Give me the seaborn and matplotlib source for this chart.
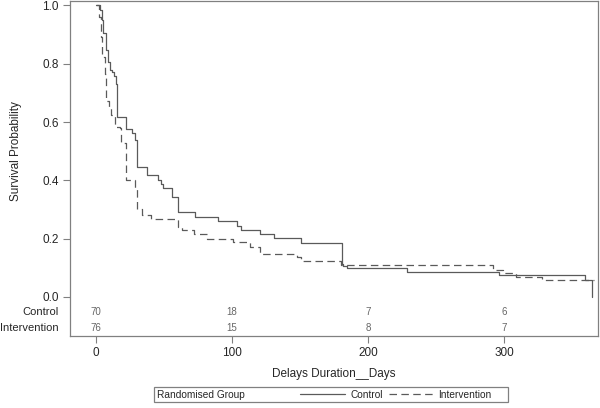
import numpy as np
import pandas as pd
import seaborn as sns
import matplotlib.pyplot as plt
from matplotlib.lines import Line2D
from matplotlib.patches import Rectangle

# Kaplan-Meier step values (day, survival after step)
control_days = [0, 2.9, 4.2, 5.4, 7.1, 8.6, 10.3, 12.0, 13.5, 14.5, 15.2, 21.8, 26.3,
                28.7, 30.4, 30.6, 37.7, 45.6, 48.0, 49.0, 55.6, 60.5, 73.0, 90.0,
                104.0, 107.0, 120.6, 131.0, 150.5, 180.7, 181.8, 184.8, 228.5,
                296.0, 359.5, 364.5]
control_surv = [1.0, 0.986, 0.949, 0.904, 0.846, 0.806, 0.777, 0.771, 0.757, 0.731,
                0.617, 0.575, 0.561, 0.540, 0.531, 0.446, 0.417, 0.400, 0.389,
                0.375, 0.342, 0.290, 0.273, 0.260, 0.245, 0.230, 0.216, 0.201,
                0.185, 0.113, 0.107, 0.101, 0.086, 0.075, 0.059, 0.0]

interv_days = [0, 2.5, 3.5, 4.7, 6.4, 7.1, 9.6, 11.0, 14.0, 17.5, 18.4, 21.8, 28.7,
               30.4, 33.6, 40.4, 60.5, 63.0, 72.3, 81.9, 100.5, 113.0, 120.5,
               147.5, 150.5, 180.0, 292.0, 299.5, 309.0, 327.5, 366.0]
interv_surv = [1.0, 0.96, 0.892, 0.823, 0.766, 0.674, 0.651, 0.623, 0.583, 0.578,
               0.528, 0.401, 0.375, 0.303, 0.280, 0.266, 0.240, 0.228, 0.216,
               0.198, 0.187, 0.172, 0.146, 0.137, 0.122, 0.108, 0.094, 0.082,
               0.068, 0.057, 0.057]

# numbers at risk
risk_days = [0, 100, 200, 300]
risk_control = [70, 18, 7, 6]
risk_interv = [76, 15, 8, 7]

groups = ['Control', 'Intervention']

df = pd.concat([
    pd.DataFrame({'days': control_days, 'surv': control_surv, 'group': 'Control'}),
    pd.DataFrame({'days': interv_days, 'surv': interv_surv, 'group': 'Intervention'}),
])

sns.set_style('white')
plt.rcParams['font.family'] = ['Liberation Sans', 'DejaVu Sans']
fs = 8.5

line_col = '#5a5a5a'
frame_col = '#808080'

fig = plt.figure(figsize=(6, 4.08), dpi=100)
ax = fig.add_axes([70 / 600, 1 - 336 / 408, 528 / 600, 335 / 408])

sns.lineplot(data=df, x='days', y='surv', hue='group', style='group',
             palette={'Control': line_col, 'Intervention': line_col},
             dashes={'Control': '', 'Intervention': (6, 3.5)},
             drawstyle='steps-post', estimator=None, sort=False,
             linewidth=0.9, legend=False, ax=ax)

ax.set_xlim(-19, 369)
ax.set_ylim(-0.134, 1.0154)
ax.set_xticks(risk_days)
ax.set_yticks([0.0, 0.2, 0.4, 0.6, 0.8, 1.0])
ax.set_yticklabels([f'{v:.1f}' for v in [0.0, 0.2, 0.4, 0.6, 0.8, 1.0]])
ax.tick_params(direction='out', length=5, width=0.8, color=frame_col,
               labelsize=fs, pad=3, left=True, bottom=True)
for s in ax.spines.values():
    s.set_color(frame_col)
    s.set_linewidth(0.9)

ax.set_xlabel('Delays Duration__Days', fontsize=fs)
ax.xaxis.set_label_coords(0.5, -0.095)
ax.set_ylabel('Survival Probability', fontsize=fs)
ax.yaxis.set_label_coords(-0.09, (0.5 + 0.134) / (1.0154 + 0.134))

# at-risk table inside the axes
row_y = [-0.052, -0.107]
for y, lab, vals in zip(row_y, groups, [risk_control, risk_interv]):
    ax.text(-0.021, y, lab, transform=ax.get_yaxis_transform(),
            ha='right', va='center', fontsize=8)
    for d, v in zip(risk_days, vals):
        ax.text(d, y, str(v), ha='center', va='center', fontsize=7,
                color='#666666')

# legend strip at the bottom
fig.patches.append(Rectangle((154 / 600, 1 - 402 / 408), 354 / 600, 15 / 408,
                             transform=fig.transFigure, fill=False,
                             edgecolor=frame_col, linewidth=0.9))
fig.text(157 / 600, 1 - 394.5 / 408, 'Randomised Group', ha='left',
         va='center', fontsize=7.3)
handles = [Line2D([], [], color=line_col, lw=0.9),
           Line2D([], [], color=line_col, lw=0.9, dashes=(6, 3.5))]
fig.legend(handles, groups, loc='center', bbox_to_anchor=(396 / 600, 1 - 394.5 / 408),
           ncol=2, frameon=False, fontsize=7.3, handlelength=4.4,
           handletextpad=0.5, columnspacing=0.6, borderpad=0, borderaxespad=0)

fig.savefig('out.png', dpi=100)
